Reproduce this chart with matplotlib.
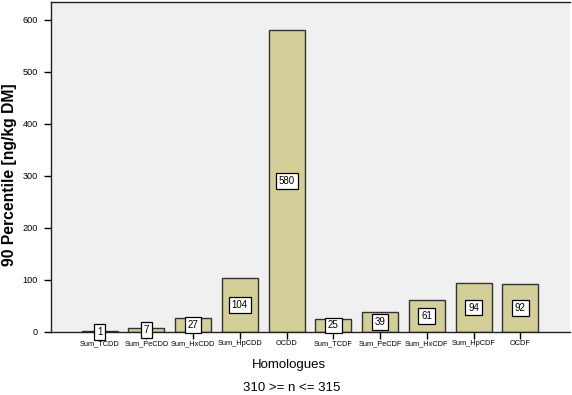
import matplotlib
matplotlib.use("Agg")
import matplotlib.pyplot as plt

plt.rcParams['font.family'] = ['Liberation Sans', 'DejaVu Sans']

homologues = ['Sum_TCDD', 'Sum_PeCDD', 'Sum_HxCDD', 'Sum_HpCDD', 'OCDD',
              'Sum_TCDF', 'Sum_PeCDF', 'Sum_HxCDF', 'Sum_HpCDF', 'OCDF']
p90 = [1, 7, 27, 104, 580, 25, 39, 61, 94, 92]

fig = plt.figure(figsize=(5.72, 3.95), dpi=100)
ax = fig.add_axes([0.0883, 0.1595, 0.908, 0.8355])
ax.set_facecolor('#f0f0f0')

x = range(len(homologues))
ax.bar(x, p90, width=0.77, color='#d4cf99', edgecolor='#333333', linewidth=1.0)

# value labels in white boxes, placed at half bar height
for i, v in zip(x, p90):
    ax.text(i, v / 2, str(v), ha='center', va='center', fontsize=7,
            bbox=dict(boxstyle='square,pad=0.3', facecolor='white',
                      edgecolor='black', linewidth=0.9), zorder=5, clip_on=False)

ax.set_xlim(-1.05, 10.06)
ax.set_ylim(0, 634)
ax.set_xticks(list(x))
ax.set_xticklabels(homologues, fontsize=5.3)
ax.set_yticks([0, 100, 200, 300, 400, 500, 600])
ax.tick_params(axis='y', labelsize=6.6, length=5, width=1, direction='out', pad=4)
ax.tick_params(axis='x', length=5, width=1, direction='out', pad=1)

for s in ['top', 'left', 'bottom']:
    ax.spines[s].set_linewidth(1.0)
    ax.spines[s].set_color('#222222')
ax.spines['right'].set_visible(False)

ax.set_ylabel('90 Percentile [ng/kg DM]', fontsize=11.3, fontweight='bold')
ax.yaxis.set_label_coords(-0.0645, 0.477)

fig.text(0.5045, 0.0684, 'Homologues', ha='center', va='baseline', fontsize=9.5)
fig.text(0.5095, 0.0101, '310 >= n <= 315', ha='center', va='baseline', fontsize=9.5)

fig.savefig('out.png', dpi=100)
